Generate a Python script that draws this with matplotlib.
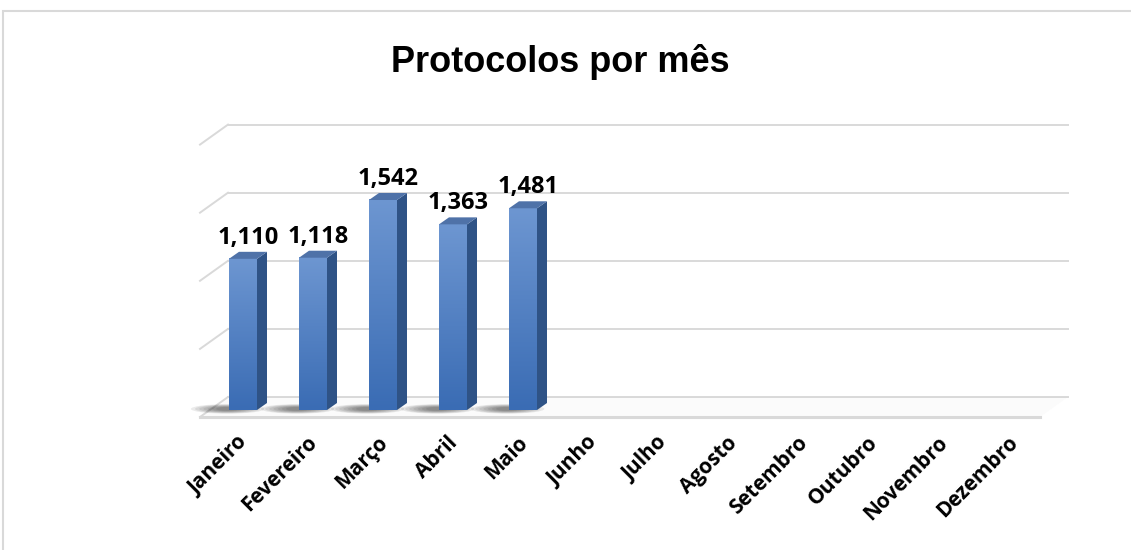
import matplotlib.pyplot as plt
import numpy as np
from matplotlib.patches import Polygon, Rectangle, Ellipse
from matplotlib.lines import Line2D
from matplotlib.transforms import offset_copy, IdentityTransform, ScaledTranslation
from matplotlib.colors import LinearSegmentedColormap

meses = ["Janeiro", "Fevereiro", "Março", "Abril", "Maio", "Junho",
         "Julho", "Agosto", "Setembro", "Outubro", "Novembro", "Dezembro"]
protocolos = [1110, 1118, 1542, 1363, 1481]
grade = [0, 500, 1000, 1500, 2000]

W, H = 1131, 550
fig = plt.figure(figsize=(W / 100, H / 100), dpi=100)
fig.patch.set_facecolor("white")

# front plane of the pseudo-3D box, in pixels
x_left, x_right = 208, 1048
y_floor, y_top = 410, 410 - 2000 * 0.1362
ax = fig.add_axes([x_left / W, (H - y_floor) / H,
                   (x_right - x_left) / W, (y_floor - y_top) / H])
ax.set_xlim(-0.5, 11.5)
ax.set_ylim(0, 2000)
ax.patch.set_visible(False)
for s in ax.spines.values():
    s.set_visible(False)

grid_col = "#d9d9d9"
back = offset_copy(ax.transData, fig=fig, x=20, y=13, units="dots")
front = offset_copy(ax.transData, fig=fig, x=-8, y=-7, units="dots")

# floor plate
p0 = ax.transData.transform((-0.5, 0))
p1 = ax.transData.transform((11.5, 0))
floor = Polygon([p0 + (-8, -7), p1 + (-8, -7), p1 + (20, 13), p0 + (20, 13)],
                closed=True, transform=IdentityTransform(),
                fc="#fbfbfb", ec="none", zorder=0.5, clip_on=False)
ax.add_patch(floor)
ax.plot([-0.5, 11.5], [0, 0], transform=front, color=grid_col, lw=2.2,
        clip_on=False, zorder=1)

# back wall gridlines and side wall diagonals
for v in grade:
    ax.plot([-0.5, 11.5], [v, v], transform=back, color=grid_col, lw=1.4,
            clip_on=False, zorder=1)
    p = ax.transData.transform((-0.5, v))
    ax.add_line(Line2D([p[0] - 8, p[0] + 20], [p[1] - 7, p[1] + 13],
                       transform=IdentityTransform(), color=grid_col, lw=1.4,
                       clip_on=False, zorder=1))

# bar depth in data units
px_x = ax.transData.transform((1, 0))[0] - ax.transData.transform((0, 0))[0]
px_y = ax.transData.transform((0, 1000))[1] - ax.transData.transform((0, 0))[1]
ddx = 10 / px_x
ddy = 7 / px_y * 1000
w = 28 / px_x

cmap = LinearSegmentedColormap.from_list("barra", ["#3a6cb4", "#6d96d1"])
grad = np.linspace(0, 1, 100).reshape(-1, 1)

for i, v in enumerate(protocolos):
    x0, x1 = i - w / 2, i + w / 2
    # soft shadow on the floor
    for k in range(7):
        ax.add_patch(Ellipse((i - 0.22, 8), 1.05 - k * 0.12, 70 - k * 7,
                             fc="black", ec="none", alpha=0.08,
                             zorder=2, clip_on=False))
    ax.imshow(grad, extent=(x0, x1, 0, v), origin="lower", aspect="auto",
              cmap=cmap, zorder=3)
    ax.add_patch(Polygon([(x1, 0), (x1 + ddx, ddy), (x1 + ddx, v + ddy), (x1, v)],
                         closed=True, fc="#2f5386", ec="none", zorder=3))
    ax.add_patch(Polygon([(x0, v), (x0 + ddx, v + ddy), (x1 + ddx, v + ddy), (x1, v)],
                         closed=True, fc="#4f72a8", ec="none", zorder=3))
    ax.annotate(f"{v:,}", (i, v), xytext=(5, 15), textcoords="offset pixels",
                ha="center", va="baseline", fontsize=17, fontweight="bold",
                family="Open Sans", color="black", zorder=4)

ax.set_xlim(-0.5, 11.5)
ax.set_ylim(0, 2000)
ax.set_yticks([])
ax.set_xticks(range(len(meses)))
ax.set_xticklabels(meses, rotation=45, ha="right", rotation_mode="anchor",
                   fontsize=15, fontweight="bold", family="Open Sans")
ax.tick_params(axis="x", length=0, pad=16)
shift = ScaledTranslation(-6 / 100, 0, fig.dpi_scale_trans)
for lbl in ax.get_xticklabels():
    lbl.set_transform(lbl.get_transform() + shift)

fig.text(560 / W, 1 - 72 / H, "Protocolos por mês", ha="center", va="baseline",
         fontsize=26, fontweight="bold", family="Liberation Sans")

fig.add_artist(Rectangle((3 / W, -0.1), 1.2, (H - 11) / H + 0.1,
                         transform=fig.transFigure, fill=False,
                         ec="#d9d9d9", lw=1.5))

fig.savefig("out.png", dpi=100, facecolor="white")
